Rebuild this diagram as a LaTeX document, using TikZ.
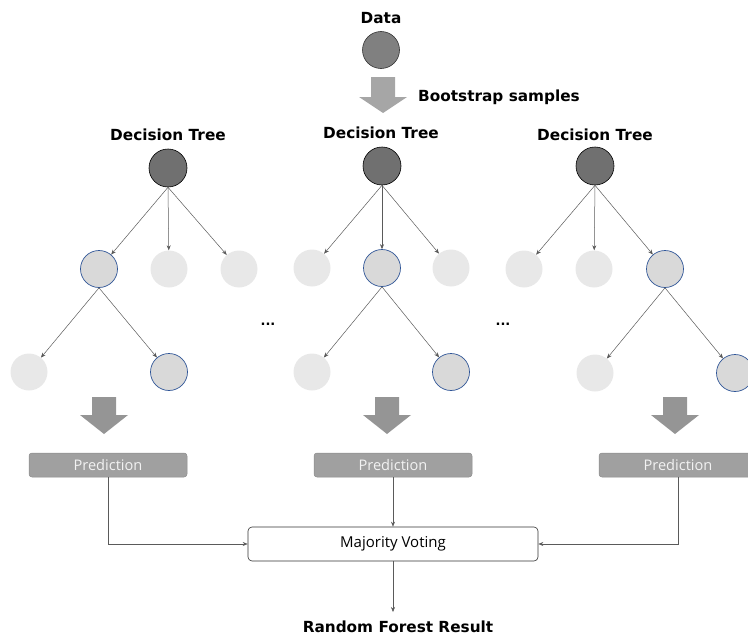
\documentclass[tikz,border=0pt]{standalone}
\usepackage{fontspec}
\setmainfont{DejaVu Sans}
\newfontfamily\lightfont{Open Sans}
\usetikzlibrary{arrows.meta}
\definecolor{rootfill}{HTML}{707070}
\definecolor{datafill}{HTML}{808080}
\definecolor{leaffill}{HTML}{E8E8E8}
\definecolor{selfill}{HTML}{D9D9D9}
\definecolor{selborder}{HTML}{2F5597}
\definecolor{toparrow}{HTML}{A6A6A6}
\definecolor{lowarrow}{HTML}{959595}
\definecolor{predfill}{HTML}{A0A0A0}
\definecolor{predborder}{HTML}{8C8C8C}
\definecolor{linecol}{HTML}{5A5A5A}
\tikzset{
  title/.style={font=\bfseries\fontsize{15.3}{18}\selectfont, inner sep=0pt},
  rootnode/.style={circle, minimum size=38pt, inner sep=0pt, fill=rootfill, draw=black, line width=0.6pt},
  datanode/.style={circle, minimum size=37pt, inner sep=0pt, fill=datafill, draw=black!80, line width=0.6pt},
  leafnode/.style={circle, minimum size=37pt, inner sep=0pt, fill=leaffill},
  selnode/.style={circle, minimum size=37pt, inner sep=0pt, fill=selfill, draw=selborder, line width=0.7pt},
  edge/.style={draw=linecol, line width=0.5pt, -{Stealth[length=5pt,width=4pt]}},
  predbox/.style={rectangle, rounded corners=3pt, minimum width=158pt, minimum height=24pt, inner sep=0pt, fill=predfill, draw=predborder, line width=0.5pt, text=white!95!black, font=\lightfont\fontsize{14.6}{16}\selectfont},
  votebox/.style={rectangle, rounded corners=4pt, minimum width=290pt, minimum height=34pt, inner sep=0pt, draw=black!80, line width=0.6pt, fill=white, font=\lightfont\fontsize{15}{17}\selectfont},
  dots/.style={font=\bfseries\fontsize{13}{14}\selectfont, inner sep=0pt}
}
\newcommand\bigarr[5]{%
  \fill[#5] (#1-12,#2) -- (#1+12,#2) -- (#1+12,#3) -- (#1+24,#3) -- (#1,#4) -- (#1-24,#3) -- (#1-12,#3) -- cycle;}
\begin{document}
\begin{tikzpicture}[x=1pt,y=-1pt]
\useasboundingbox (0,0) rectangle (748,637);
% Data
\node[title] (datat) at (381,18) {Data};
\node[datanode] (data) at (381,50) {};
\bigarr{383}{77}{97}{113}{toparrow}
\node[title, anchor=west] (boot) at (418,97) {Bootstrap samples};
% Tree 1
\node[title] (dt1) at (168,135) {Decision Tree};
\node[rootnode] (r1) at (168,168) {};
\node[selnode] (a1) at (99,269) {};
\node[leafnode] (b1) at (169,269) {};
\node[leafnode] (c1) at (239,269) {};
\node[leafnode] (d1) at (29,372) {};
\node[selnode] (e1) at (169,372) {};
\draw[edge] (r1.south) -- (a1);
\draw[edge] (r1.south) -- (b1);
\draw[edge] (r1.south) -- (c1);
\draw[edge] (a1.south) -- (d1);
\draw[edge] (a1.south) -- (e1);
% Tree 2
\node[title] (dt2) at (381,133) {Decision Tree};
\node[rootnode] (r2) at (382,166) {};
\node[leafnode] (a2) at (312,268) {};
\node[selnode] (b2) at (382,268) {};
\node[leafnode] (c2) at (451,268) {};
\node[leafnode] (d2) at (312,372) {};
\node[selnode] (e2) at (451,372) {};
\draw[edge] (r2.south) -- (a2);
\draw[edge] (r2.south) -- (b2);
\draw[edge] (r2.south) -- (c2);
\draw[edge] (b2.south) -- (d2);
\draw[edge] (b2.south) -- (e2);
% Tree 3
\node[title] (dt3) at (595,135) {Decision Tree};
\node[rootnode] (r3) at (595,166) {};
\node[leafnode] (a3) at (524,269) {};
\node[leafnode] (b3) at (594,269) {};
\node[selnode] (c3) at (665,269) {};
\node[leafnode] (d3) at (595,373) {};
\node[selnode] (e3) at (735,373) {};
\draw[edge] (r3.south) -- (a3);
\draw[edge] (r3.south) -- (b3);
\draw[edge] (r3.south) -- (c3);
\draw[edge] (c3.south) -- (d3);
\draw[edge] (c3.south) -- (e3);
% dots
\node[dots] (dots1) at (268,324) {...};
\node[dots] (dots2) at (503,324) {...};
% lower arrows
\bigarr{104}{397}{415}{434}{lowarrow}
\bigarr{387}{397}{415}{434}{lowarrow}
\bigarr{675}{397}{415}{434}{lowarrow}
% predictions
\node[predbox] (p1) at (108,465) {Prediction};
\node[predbox] (p2) at (393,465) {Prediction};
\node[predbox] (p3) at (678,465) {Prediction};
% voting
\node[votebox] (mv) at (393,544) {Majority Voting};
\draw[edge] (p1) |- (mv);
\draw[edge] (p3) |- (mv);
\draw[edge] (p2) -- (mv);
\coordinate (resend) at (393,612);
\draw[edge] (mv) -- (resend);
\node[title] (res) at (398,627) {Random Forest Result};
\end{tikzpicture}
\end{document}
